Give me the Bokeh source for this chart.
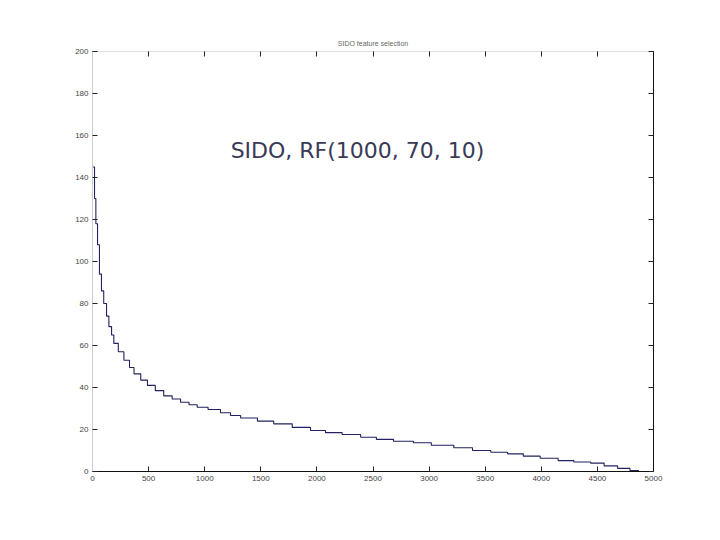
from bokeh.plotting import figure
from bokeh.models import Range1d, FixedTicker, LinearAxis, Label, CustomJSTickFormatter
from bokeh.embed import file_html
from bokeh.resources import INLINE

# Sorted feature-score curve (rank -> score)
rank = [0, 18, 30, 45, 62, 80, 100, 125, 146, 170, 190, 230, 280, 330, 370,
        430, 490, 560, 635, 710, 785, 860, 933, 1030, 1141, 1230, 1320, 1470,
        1615, 1780, 1943, 2077, 2225, 2390, 2530, 2683, 2860, 3020, 3220, 3387,
        3550, 3700, 3840, 3990, 4150, 4290, 4440, 4560, 4680, 4790, 4870]
score = [145, 130, 118, 108, 94, 86, 80, 74, 69, 65, 61, 57, 53, 49.5, 46.5,
         43.5, 41, 38.5, 36, 34.5, 33, 31.8, 30.6, 29.5, 28, 26.7, 25.5, 24,
         22.7, 21, 19.5, 18.5, 17.6, 16.3, 15.3, 14.4, 13.7, 12.5, 11.3, 10,
         9.2, 8.4, 7.3, 6.3, 5.2, 4.5, 4, 2.7, 1.5, 0.5, 0.5]

x_ticks = [0, 500, 1000, 1500, 2000, 2500, 3000, 3500, 4000, 4500, 5000]
y_ticks = [0, 20, 40, 60, 80, 100, 120, 140, 160, 180, 200]

chart_title = "SIDO feature selection"
slide_text = "SIDO, RF(1000, 70, 10)"

p = figure(frame_width=561, frame_height=420,
           min_border_left=92, min_border_right=59,
           min_border_top=51, min_border_bottom=61,
           x_range=Range1d(0, 5000), y_range=Range1d(0, 200),
           output_backend="svg", toolbar_location=None,
           background_fill_color="white", border_fill_color="white")

p.grid.visible = False
p.outline_line_color = None

p.title.text = chart_title
p.title.align = "center"
p.title.text_font = "Liberation Sans"
p.title.text_font_size = "7px"
p.title.text_font_style = "normal"
p.title.text_color = "#666666"

def style_axis(ax, ticks, show_labels, line_color):
    ax.ticker = FixedTicker(ticks=ticks)
    ax.minor_tick_line_color = None
    ax.major_tick_in = 5
    ax.major_tick_out = 0
    ax.major_tick_line_color = "#222222"
    ax.axis_line_color = line_color
    ax.major_label_text_font = "Liberation Sans"
    ax.major_label_text_font_size = "8px"
    ax.major_label_text_color = "#444444"
    ax.major_label_standoff = 4
    if not show_labels:
        ax.formatter = CustomJSTickFormatter(code="return '';")

style_axis(p.xaxis[0], x_ticks, True, "#111111")
style_axis(p.yaxis[0], y_ticks, True, "#cccccc")

top_ax = LinearAxis()
right_ax = LinearAxis()
p.add_layout(top_ax, "above")
p.add_layout(right_ax, "right")
style_axis(top_ax, x_ticks, False, "#dddddd")
style_axis(right_ax, y_ticks, False, "#111111")

p.step(rank, score, mode="after", line_color="#22225e", line_width=1.1)

p.add_layout(Label(x=2362, y=153, text=slide_text, text_align="center",
                   text_baseline="middle", text_font="DejaVu Sans",
                   text_font_size="22px", text_color="#3a3a58"))

open("out.html", "w").write(file_html(p, INLINE))
